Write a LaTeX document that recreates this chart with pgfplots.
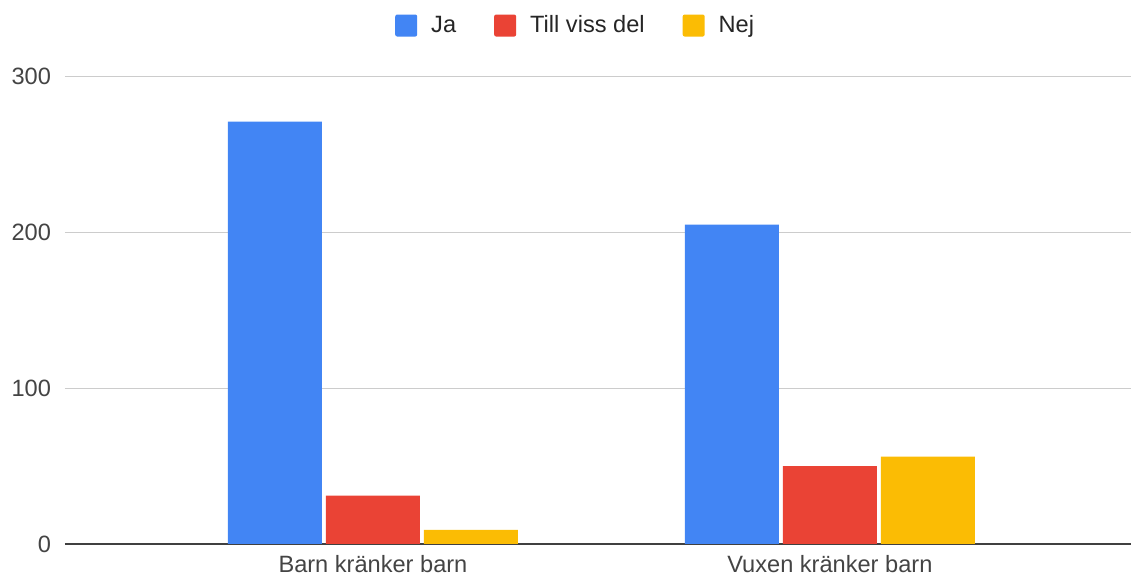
\documentclass[border=0pt]{standalone}
\usepackage{pgfplots}
\pgfplotsset{compat=1.18}
\usepackage{fontspec}
\setmainfont{Liberation Sans}
\definecolor{cJa}{HTML}{4285F4}
\definecolor{cTill}{HTML}{EA4335}
\definecolor{cNej}{HTML}{FBBC04}
\definecolor{gridc}{HTML}{CCCCCC}
\definecolor{txt}{HTML}{444444}
\begin{document}
\begin{tikzpicture}
\useasboundingbox (0,0) rectangle (565.5pt,288pt);
\begin{axis}[
  at={(32.5pt,16pt)}, anchor=south west,
  scale only axis, width=533pt, height=233.75pt,
  xmin=-0.674, xmax=1.659, ymin=0, ymax=300,
  ybar=2pt, bar width=47pt,
  xtick={0,1}, xticklabels={Barn kränker barn, Vuxen kränker barn},
  ytick={0,100,200,300},
  major tick length=0pt,
  axis x line*=bottom, axis y line*=left,
  x axis line style={draw=black!75, line width=0.75pt, -},
  y axis line style={draw=none},
  ymajorgrids, grid style={gridc, line width=0.6pt},
  /pgf/number format/assume math mode=true,
  tick label style={font=\fontsize{11.8}{13}\selectfont, text=txt},
  yticklabel style={xshift=-3.5pt},
  xticklabel style={yshift=-2pt},
  legend style={at={(rel axis cs:0.48,1.109)}, anchor=center, draw=none,
    legend columns=-1, font=\fontsize{11.8}{13}\selectfont, text=black!85,
    /tikz/every even column/.append style={column sep=17pt},
    /tikz/every odd column/.append style={column sep=5pt}},
  legend image code/.code={\fill[#1, rounded corners=1pt] (0pt,-5.5pt) rectangle (11pt,5.5pt);},
]
\addplot[fill=cJa, draw=none] coordinates {(0,271) (1,205)};
\addplot[fill=cTill, draw=none] coordinates {(0,31) (1,50)};
\addplot[fill=cNej, draw=none] coordinates {(0,9) (1,56)};
\legend{Ja, Till viss del, Nej}
\end{axis}
\end{tikzpicture}
\end{document}
